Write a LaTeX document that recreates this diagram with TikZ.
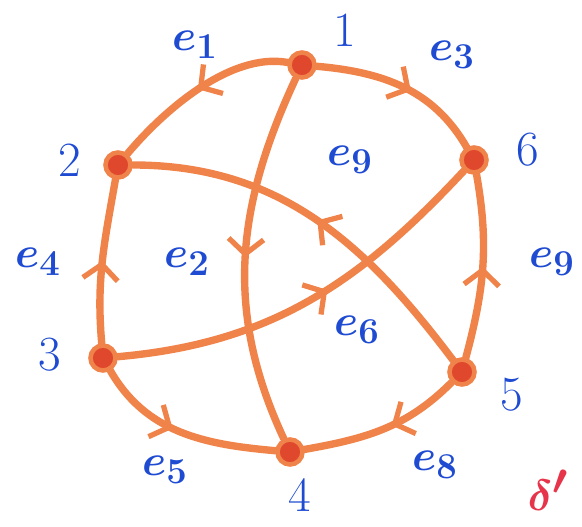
\documentclass[tikz,border=0pt]{standalone}
\usepackage{amsmath}
\usetikzlibrary{
  arrows.meta,
  backgrounds,
  decorations.markings
}
\definecolor{graphOrange}{HTML}{F0834A}
\definecolor{graphRed}{HTML}{E0482E}
\definecolor{graphBlue}{HTML}{1E4BD2}
\definecolor{graphPink}{HTML}{E6344A}
\tikzset{
  every node/.style={text=graphBlue},
  vertex/.style={
    circle,
    fill=graphRed,
    draw=graphOrange,
    line width=2.6pt,
    minimum size=0.5cm,
    inner sep=0pt
  },
  vlabel/.style={font=\fontsize{28}{32}\selectfont},
  elabel/.style={font=\fontsize{32}{36}\selectfont\boldmath},
  edge/.style={
    draw=graphOrange,
    line width=4.2pt,
    line cap=round
  },
  midarrow/.style={
    postaction={decorate},
    decoration={
      markings,
      mark=at position #1 with {\arrow[graphOrange, line width=3pt]{Straight Barb[length=3mm,width=7mm]}}
    }
  },
  midarrow/.default=0.5
}

\begin{document}
\begin{tikzpicture}[x=0.02cm,y=0.02cm]
  \useasboundingbox (0,0) rectangle (582,527);

  % vertices
  \node[vertex] (v1) at (302,462) {};
  \node[vertex] (v2) at (118,362) {};
  \node[vertex] (v3) at (103,169) {};
  \node[vertex] (v4) at (290,75) {};
  \node[vertex] (v5) at (462,155) {};
  \node[vertex] (v6) at (474,367) {};

  % edges
  \begin{scope}[on background layer]
    \draw[edge, midarrow=0.5] (v1) to[out=170, in=50, looseness=0.8] (v2);
    \draw[edge, midarrow=0.55] (v1) to[out=-5, in=120] (v6);
    \draw[edge, midarrow=0.5] (v5) to[out=75, in=-80] (v6);
    \draw[edge, midarrow=0.45] (v5) to[out=225, in=10] (v4);
    \draw[edge, midarrow=0.45] (v3) to[out=-60, in=175] (v4);
    \draw[edge, midarrow=0.5] (v3) to[out=95, in=-100] (v2);
    \draw[edge, midarrow=0.5] (v1) to[out=245, in=115] (v4);
    \draw[edge, midarrow=0.5] (v5) to[out=127, in=0] (v2);
    \draw[edge, midarrow=0.55] (v3) to[out=5, in=227] (v6);
  \end{scope}

  % vertex numbers
  \node[vlabel] (n1) at (345,497) {1};
  \node[vlabel] (n2) at (70,367) {2};
  \node[vlabel] (n3) at (50,172) {3};
  \node[vlabel] (n4) at (300,32) {4};
  \node[vlabel] (n5) at (512,132) {5};
  \node[vlabel] (n6) at (528,377) {6};

  % edge names
  \node[elabel] (e1) at (195,482) {$e_1$};
  \node[elabel] (e3) at (452,472) {$e_3$};
  \node[elabel] (e9a) at (350,367) {$e_9$};
  \node[elabel] (e4) at (38,265) {$e_4$};
  \node[elabel] (e2) at (187,265) {$e_2$};
  \node[elabel] (e9b) at (552,265) {$e_9$};
  \node[elabel] (e6) at (357,197) {$e_6$};
  \node[elabel] (e5) at (165,57) {$e_5$};
  \node[elabel] (e8) at (435,62) {$e_8$};

  \node[text=graphPink, font=\fontsize{44}{48}\selectfont\boldmath] (delta) at (548,37) {$\delta'$};
\end{tikzpicture}
\end{document}
